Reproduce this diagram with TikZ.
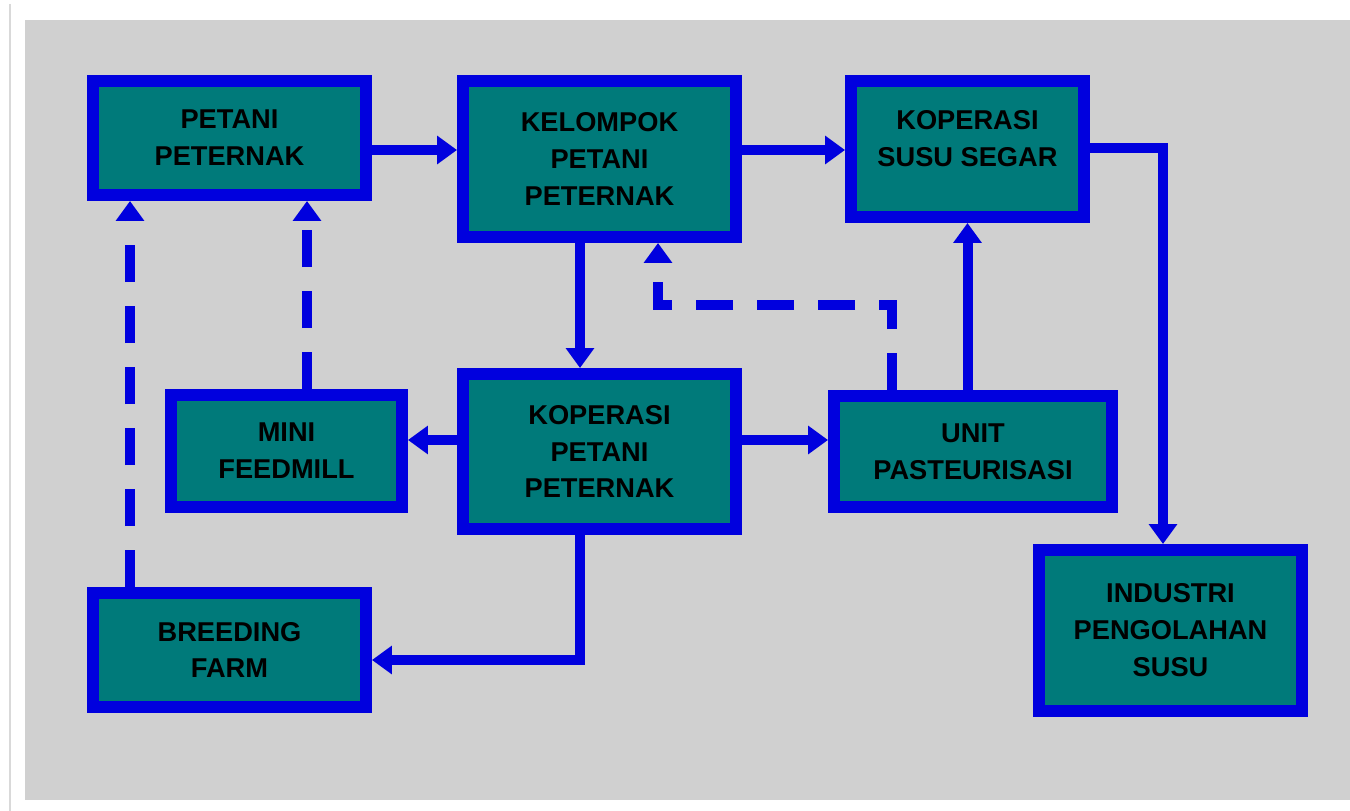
\documentclass[tikz,border=0pt]{standalone}
\usepackage{fontspec}
\setmainfont{Liberation Sans}
\usepackage{xcolor}
\usepackage{tikz}
\usetikzlibrary{arrows.meta,positioning,shapes}

\definecolor{latar}{RGB}{208,208,208}
\definecolor{biru}{RGB}{0,0,222}
\definecolor{hijau}{RGB}{0,122,122}

\begin{document}
\begin{tikzpicture}[
			x=0.02cm, y=-0.02cm,
			kotak/.style={rectangle, draw=biru, fill=hijau, line width=0.24cm, align=center,
				font=\fontsize{15.5}{21}\selectfont\bfseries, text=black, inner sep=0pt},
			panah/.style={draw=biru, line width=0.2cm, -{Triangle[length=0.4cm, width=0.55cm]}},
			putus/.style={panah, dash pattern=on 0.74cm off 0.48cm},
			>=Triangle
			]
			
			% Latar
			\useasboundingbox (0,0) rectangle (1350,811);
			\draw[gray!30, line width=0.04cm] (10,4) -- (10,811);
			\fill[latar] (25,20) rectangle (1350,800);
			
			% Kotak-kotak
			\node[kotak, minimum width=5.46cm, minimum height=2.28cm] (petani) at (229.5,138) {PETANI\\PETERNAK};
			\node[kotak, minimum width=5.46cm, minimum height=3.12cm] (kelompok) at (599.5,159) {KELOMPOK\\PETANI\\PETERNAK};
			\node[kotak, minimum width=4.66cm, minimum height=2.72cm, text depth=0.42cm] (susu) at (967.5,149) {KOPERASI\\SUSU SEGAR};
			\node[kotak, minimum width=4.62cm, minimum height=2.24cm] (feedmill) at (286.5,451) {MINI\\FEEDMILL};
			\node[kotak, minimum width=5.46cm, minimum height=3.10cm] (koperasi) at (599.5,451.5) {KOPERASI\\PETANI\\PETERNAK};
			\node[kotak, minimum width=5.56cm, minimum height=2.22cm] (unit) at (973,451.5) {UNIT\\PASTEURISASI};
			\node[kotak, minimum width=5.46cm, minimum height=2.28cm] (breeding) at (229.5,650) {BREEDING\\FARM};
			\node[kotak, minimum width=5.26cm, minimum height=3.22cm] (industri) at (1170.5,630.5) {INDUSTRI\\PENGOLAHAN\\SUSU};
			
			% Alur baris atas
			\draw[panah] (petani.east |- 0,150) -- (kelompok.west |- 0,150);
			\draw[panah] (kelompok.east |- 0,150) -- (susu.west |- 0,150);
			\draw[panah] (susu.east |- 0,148) -| (industri.north -| 1163,0);
			
			% Alur tengah
			\draw[panah] (kelompok.south -| 580,0) -- (koperasi.north -| 580,0);
			\draw[panah] (unit.north -| susu.south) -- (susu.south);
			\draw[putus] (unit.north -| 892,0) |- (658,305) -- (kelompok.south -| 658,0);
			\draw[panah] (koperasi.west |- 0,440) -- (feedmill.east |- 0,440);
			\draw[panah] (koperasi.east |- 0,440) -- (unit.west |- 0,440);
			
			% Alur bawah
			\draw[panah] (koperasi.south -| 580,0) |- (breeding.east |- 0,660);
			\draw[putus] (feedmill.north -| 307,0) -- (petani.south -| 307,0);
			\draw[putus] (breeding.north -| 130,0) -- (petani.south -| 130,0);
			
		\end{tikzpicture}
\end{document}
